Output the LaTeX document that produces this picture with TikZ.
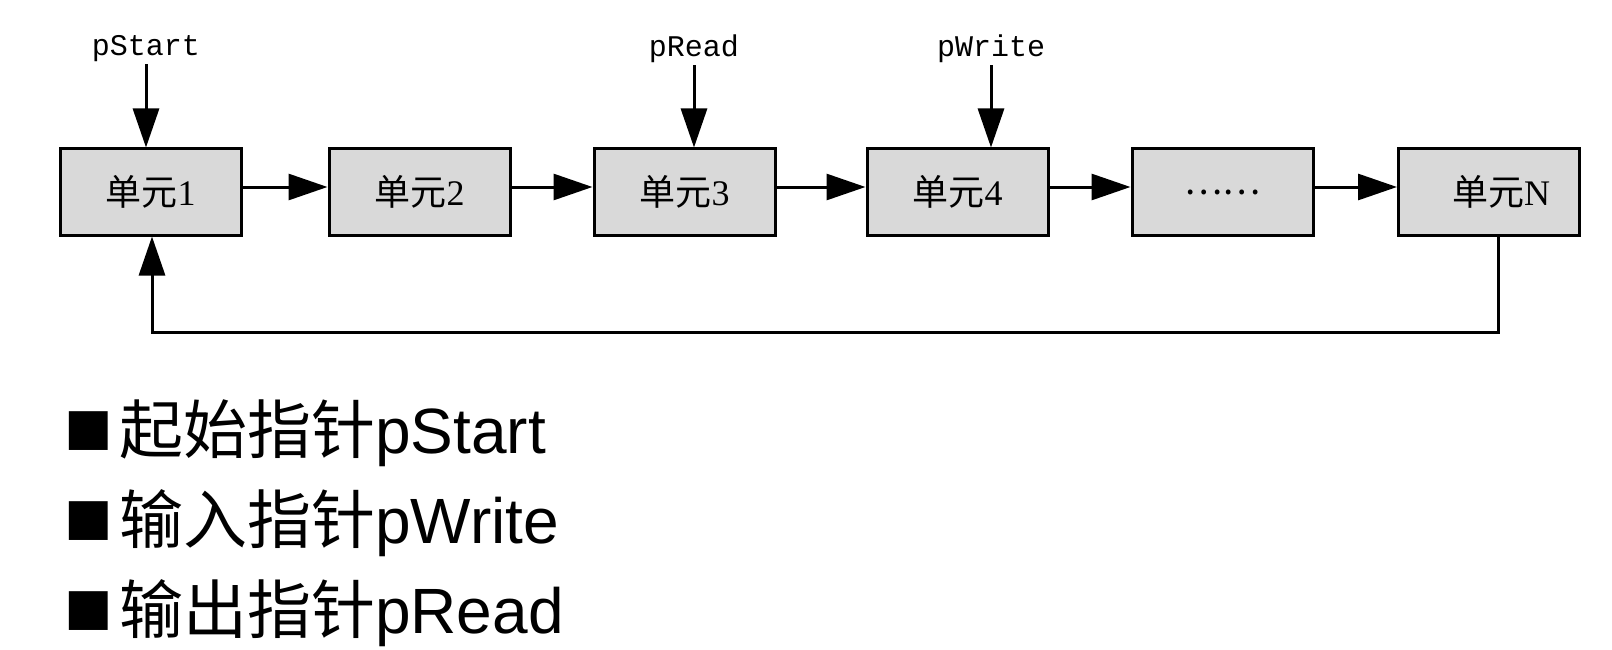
\documentclass[tikz,border=0pt]{standalone}
\usepackage{fontspec}
\setmainfont{Liberation Serif}
\setsansfont{Liberation Sans}
\setmonofont{Liberation Mono}
\newfontfamily\cjk{Noto Sans CJK SC}
\usetikzlibrary{positioning, arrows.meta}
\newcommand{\blk}{\raisebox{4pt}{\fontsize{48.5}{48.5}\selectfont\cjk ■}\kern6.5pt}

\begin{document}
\begin{tikzpicture}[x=1pt, y=-1pt,
    unit/.style = {draw, line width=3pt, fill=gray!30, minimum width=181pt, minimum height=86pt, inner sep=0pt, font=\fontsize{36}{36}\selectfont},
    ptr/.style = {inner sep=2pt, font=\ttfamily\fontsize{30}{30}\selectfont},
    lnk/.style = {line width=3pt, -{Triangle[length=39pt, width=26pt]}},
    item/.style = {anchor=base west, inner sep=0pt, font=\fontsize{64}{64}\selectfont}]
    \useasboundingbox (0,0) rectangle (1612,650);

    % 单元
    \node[unit] (u1) at (150.5,192) {{\cjk 单元}1};
    \node[unit] (u2) at (419.5,192) {{\cjk 单元}2};
    \node[unit] (u3) at (684.5,192) {{\cjk 单元}3};
    \node[unit] (u4) at (957.5,192) {{\cjk 单元}4};
    \node[unit] (u5) at (1222.5,192) {\cjk ……};
    \node[unit] (uN) at (1489,192) {\hspace*{24pt}{\cjk 单元}N};

    % 指针
    \node[ptr] (ps) at (146,49) {pStart};
    \node[ptr] (pr) at (694,49) {pRead};
    \node[ptr] (pw) at (991,49) {pWrite};
    \draw[lnk] (ps) -- (ps |- u1.north);
    \draw[lnk] (pr) -- (pr |- u3.north);
    \draw[lnk] (pw) -- (pw |- u4.north);

    % 链接
    \draw[lnk] ([yshift=5pt]u1.east) -- ([yshift=5pt]u2.west);
    \draw[lnk] ([yshift=5pt]u2.east) -- ([yshift=5pt]u3.west);
    \draw[lnk] ([yshift=5pt]u3.east) -- ([yshift=5pt]u4.west);
    \draw[lnk] ([yshift=5pt]u4.east) -- ([yshift=5pt]u5.west);
    \draw[lnk] ([yshift=5pt]u5.east) -- ([yshift=5pt]uN.west);
    \draw[lnk] ([xshift=9pt]uN.south) -- ++(0,96) -| ([xshift=1.5pt]u1.south);

    % 说明
    \node[item] (l1) at (64,453) {\blk{\cjk 起始指针}{\sffamily pStart}};
    \node[item] (l2) at (64,543) {\blk{\cjk 输入指针}{\sffamily pWrite}};
    \node[item] (l3) at (64,633) {\blk{\cjk 输出指针}{\sffamily pRead}};
\end{tikzpicture}
\end{document}
